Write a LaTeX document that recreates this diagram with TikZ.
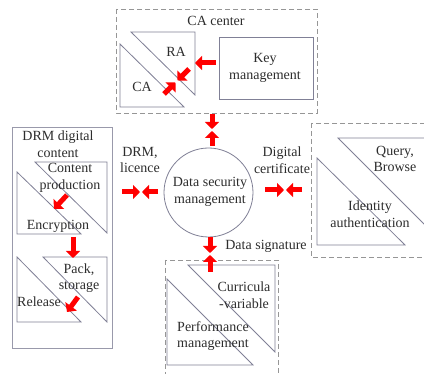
\documentclass[tikz,border=0pt]{standalone}
\usepackage{fontspec}
\setmainfont{Liberation Serif}
\newfontfamily\tnr{Liberation Serif}
\usetikzlibrary{arrows.meta}
\definecolor{lc}{RGB}{128,128,150}
\definecolor{dc}{RGB}{150,150,150}
\definecolor{txt}{RGB}{45,45,45}
\definecolor{ar}{RGB}{255,0,0}
\begin{document}
\begin{tikzpicture}[x=1pt,y=-1pt,
  lbl/.style={align=center,inner sep=0pt,font=\tnr\fontsize{14}{16.5}\selectfont,text=txt},
  tri/.style={draw=lc,line width=0.8pt},
  dbox/.style={draw=dc,line width=0.9pt,dash pattern=on 5pt off 3pt},
  rarr/.style={draw=ar,line width=5pt,-{Triangle[length=7pt,width=14pt]}},
]
\useasboundingbox (0,0) rectangle (424,374);
\fill[white] (0,0) rectangle (424,374);

% dashed / solid boxes
\draw[dbox] (116,9) rectangle (317,113);
\draw[dbox] (311,123) rectangle (430,257);
\draw[dbox] (165,260) rectangle (278,380);
\draw[draw=lc!80,line width=0.8pt] (12,127) rectangle (112,348);

% CA center triangles
\draw[tri] (131,32) -- (195,32) -- (195,95) -- cycle;
\draw[tri] (120,44) -- (120,107) -- (184,107) -- cycle;
\node[draw=lc,line width=0.8pt,minimum width=94pt,minimum height=62pt,inner sep=0pt] (key) at (266,68) {};
\node[lbl] (keyt) at (265,68) {Key\\management};
\node[lbl] (cac) at (216,21) {CA center};
\node[lbl] (ra) at (176,52) {RA};
\node[lbl] (ca) at (142,87) {CA};

% DRM box
\node[lbl] (drm) at (58,144) {DRM digital\\content};
\draw[tri] (35,162) -- (107,162) -- (107,233) -- cycle;
\draw[tri] (17,172) -- (17,234) -- (81,234) -- cycle;
\node[lbl] (cp) at (70,178) {Content\\production};
\node[lbl] (enc) at (58,226) {Encryption};
\draw[tri] (43,257) -- (107,257) -- (107,322) -- cycle;
\draw[tri] (17,257) -- (17,322) -- (81,322) -- cycle;
\node[lbl] (pack) at (79,278) {Pack,\\storage};
\node[lbl] (rel) at (39,302) {Release};

% centre
\node[draw=lc,line width=0.8pt,circle,minimum size=89pt,inner sep=0pt] (dsm) at (208.5,192.5) {};
\node[lbl] (dsmt) at (210,192) {Data security\\management};
\node[lbl] (lic) at (140,160) {DRM,\\licence};
\node[lbl] (dc) at (282,160) {Digital\\certificate};
\node[lbl] (ds) at (266,246) {Data signature};

% right box
\draw[tri] (338,138) -- (430,138) -- (430,230) -- (423,223) -- cycle;
\draw[tri] (317,158) -- (317,245) -- (405,245) -- cycle;
\node[lbl] (qb) at (395,159) {Query,\\Browse};
\node[lbl] (ia) at (370,214) {Identity\\authentication};

% bottom box
\draw[tri] (188,265) -- (275,265) -- (275,352) -- cycle;
\draw[tri] (167,279) -- (167,365) -- (253,365) -- cycle;
\node[lbl] (cv) at (244,295) {Curricula\\-variable};
\node[lbl] (pm) at (213,336) {Performance\\management};

% arrow coordinates
\coordinate (k1) at (216,63);  \coordinate (k2) at (195,63);
\coordinate (a1) at (189,69);  \coordinate (a2) at (177.5,80.5);
\coordinate (b1) at (164,94);  \coordinate (b2) at (175.5,82.5);
\coordinate (t1) at (212,114); \coordinate (t2) at (212,129);
\coordinate (t3) at (212,146); \coordinate (t4) at (212,131);
\coordinate (l1) at (122,192); \coordinate (l2) at (140,192);
\coordinate (l3) at (158,192); \coordinate (l4) at (142,192);
\coordinate (r1) at (265,190); \coordinate (r2) at (284,190);
\coordinate (r3) at (302,190); \coordinate (r4) at (286,190);
\coordinate (d1) at (210,237); \coordinate (d2) at (210,253);
\coordinate (d3) at (210,272); \coordinate (d4) at (210,255);
\coordinate (e1) at (67,195);  \coordinate (e2) at (54,209);
\coordinate (f1) at (73,237);  \coordinate (f2) at (73,258);
\coordinate (g1) at (78,297);  \coordinate (g2) at (67,312);

\draw[rarr] (k1) -- (k2);
\draw[rarr] (a1) -- (a2);
\draw[rarr] (b1) -- (b2);
\draw[rarr] (t1) -- (t2);
\draw[rarr] (t3) -- (t4);
\draw[rarr] (l1) -- (l2);
\draw[rarr] (l3) -- (l4);
\draw[rarr] (r1) -- (r2);
\draw[rarr] (r3) -- (r4);
\draw[rarr] (d1) -- (d2);
\draw[rarr] (d3) -- (d4);
\draw[rarr] (e1) -- (e2);
\draw[rarr] (f1) -- (f2);
\draw[rarr] (g1) -- (g2);
\end{tikzpicture}
\end{document}
